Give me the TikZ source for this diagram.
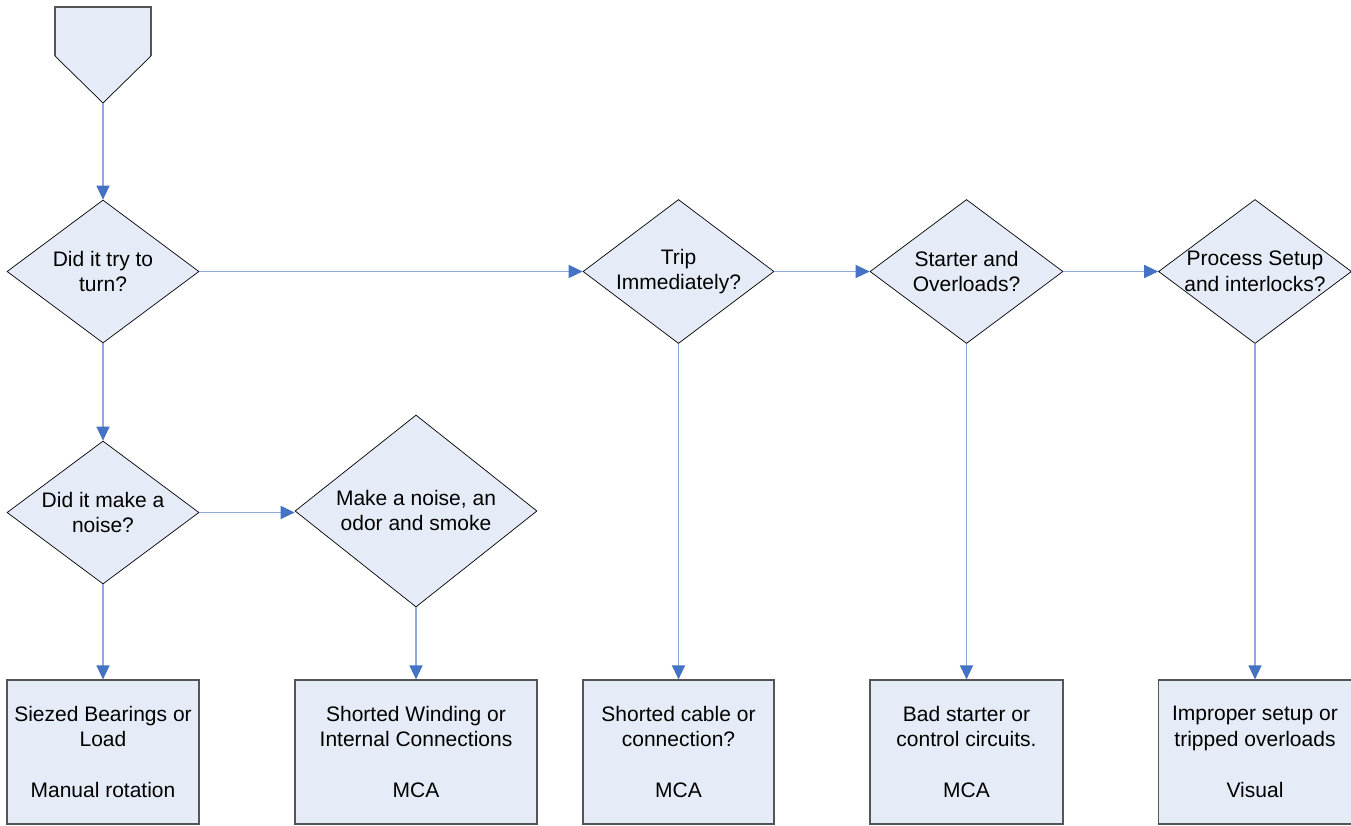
\documentclass[tikz,border=0pt]{standalone}
\usepackage{fontspec}
\setmainfont{Liberation Sans}
\usetikzlibrary{shapes.geometric,arrows.meta}
\definecolor{boxfill}{HTML}{E6ECF7}
\definecolor{linkblue}{HTML}{8EAADB}
\definecolor{tipblue}{HTML}{4472C4}
\definecolor{boxedge}{HTML}{555555}
\tikzset{
  dia/.style={diamond, draw=black, line width=0.7pt, fill=boxfill, inner sep=0pt, aspect=1.34},
  resbox/.style={rectangle, draw=boxedge, line width=1.2pt, fill=boxfill, inner sep=0pt, minimum width=192pt, minimum height=144pt},
  txt/.style={align=center, font=\fontsize{21}{25.5}\selectfont, inner sep=0pt},
  link/.style={draw=linkblue, line width=1.4pt, -{Triangle[length=14pt,width=13pt,color=tipblue]}}
}
\begin{document}
\begin{tikzpicture}[x=1pt,y=-1pt]
\useasboundingbox (0,0) rectangle (1351,825);
% start pentagon
\fill[boxfill] (55,7) -- (151,7) -- (151,56) -- (103,103) -- (55,56) -- cycle;
\draw[draw=boxedge, line width=1.2pt] (55,56) -- (55,7) -- (151,7) -- (151,56);
\draw[black, line width=0.7pt] (151,56) -- (103,103) -- (55,56);
\coordinate (start) at (103,103);
% diamonds
\node[dia, minimum width=192pt, minimum height=143pt] (d1) at (103,271.5) {};
\node[txt] (t1) at (d1) {Did it try to\\turn?};
\node[dia, minimum width=192pt, minimum height=143pt] (d2) at (103,512.5) {};
\node[txt] (t2) at (d2) {Did it make a\\noise?};
\node[dia, minimum width=242pt, minimum height=192pt] (d3) at (416,511) {};
\node[txt] (t3) at (416,510.5) {Make a noise, an\\odor and smoke};
\node[dia, minimum width=191pt, minimum height=144pt] (d4) at (678.5,271.5) {};
\node[txt] (t4) at (d4) {Trip\\Immediately?};
\node[dia, minimum width=193pt, minimum height=144pt] (d5) at (966.5,271.5) {};
\node[txt] (t5) at (d5) {Starter and\\Overloads?};
\node[dia, minimum width=193pt, minimum height=144pt] (d6) at (1255,271.5) {};
\node[txt] (t6) at (d6) {Process Setup\\and interlocks?};
% result boxes
\node[resbox] (b1) at (103,752) {};
\node[txt] (bt1) at (b1) {Siezed Bearings or\\Load\\[25.5pt]Manual rotation};
\node[resbox, minimum width=242pt] (b2) at (416,752) {};
\node[txt] (bt2) at (b2) {Shorted Winding or\\Internal Connections\\[25.5pt]MCA};
\node[resbox, minimum width=191pt] (b3) at (678.5,752) {};
\node[txt] (bt3) at (b3) {Shorted cable or\\connection?\\[25.5pt]MCA};
\node[resbox, minimum width=193pt] (b4) at (966.5,752) {};
\node[txt] (bt4) at (b4) {Bad starter or\\control circuits.\\[25.5pt]MCA};
\node[resbox, minimum width=193pt] (b5) at (1255,752) {};
\node[txt] (bt5) at (b5) {Improper setup or\\tripped overloads\\[25.5pt]Visual};
% connectors
\draw[link] (start) -- (d1.north);
\draw[link] (d1.east) -- (d4.west);
\draw[link] (d4.east) -- (d5.west);
\draw[link] (d5.east) -- (d6.west);
\draw[link] (d1.south) -- (d2.north);
\draw[link] (d2.east) -- (d2.east -| d3.west);
\draw[link] (d2.south) -- (b1.north);
\draw[link] (d3.south) -- (b2.north);
\draw[link] (d4.south) -- (b3.north);
\draw[link] (d5.south) -- (b4.north);
\draw[link] (d6.south) -- (b5.north);
\end{tikzpicture}
\end{document}
